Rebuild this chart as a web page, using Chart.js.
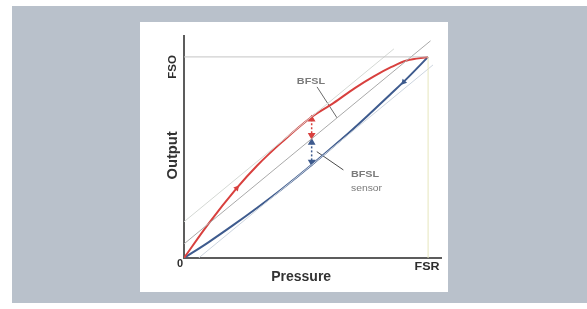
<!DOCTYPE html>
<html>
<head>
<meta charset="utf-8">
<script src="https://cdn.jsdelivr.net/npm/chart.js@4"></script>
<style>
    html, body { margin: 0; padding: 0; background: #fff; }
    #bg    { position: absolute; left: 12px; top: 6px; width: 575px; height: 297px; background: #b9c1cb; }
    #panel { position: absolute; left: 140px; top: 22px; width: 308px; height: 270px; background: #fff; }
    canvas { display: block; }
</style>
</head>
<body>
<div id="bg"></div>
<div id="panel"><canvas id="bfslChart" width="308" height="270"></canvas></div>
<script>
// Values (pressure / output as fraction of FSR / FSO)
// ----------------------------------------------
const xTickLabels = ['0', 'FSR'];
const yTickLabels = ['FSO'];

const riseX  = [0, 0.10, 0.216, 0.30, 0.40, 0.516, 0.612, 0.70, 0.776, 0.85, 0.913, 1];
const riseY  = [0, 0.17, 0.347, 0.46, 0.575, 0.695, 0.77, 0.845, 0.902, 0.95, 0.982, 1];

const fallX  = [0, 0.10, 0.20, 0.30, 0.40, 0.52, 0.65, 0.75, 0.85, 0.913, 1];
const fallY  = [0, 0.078, 0.162, 0.25, 0.342, 0.46, 0.595, 0.705, 0.819, 0.892, 1];

const bfslX  = [0, 1.01];
const bfslY  = [0.07, 1.08];
const upperX = [0, 0.86];
const upperY = [0.18, 1.04];
const lowerX = [0.06, 1.02];
const lowerY = [0, 0.96];

const errX   = 0.523;
const errRedY  = [0.69, 0.61];
const errBlueY = [0.575, 0.478];

const ptrBfslX = [0.545, 0.627];
const ptrBfslY = [0.851, 0.697];
const ptrErrX  = [0.544, 0.653];
const ptrErrY  = [0.529, 0.438];

const zip = (xs, ys) => xs.map((v, i) => ({ x: v, y: ys[i] }));

const red   = '#d8403e';
const blue  = '#3e5b8e';

// text helper, sx stretches horizontally like the blurry original
function txt(ctx, s, px, py, font, color, rot, sx, align) {
    ctx.save();
    ctx.translate(px, py);
    if (rot) ctx.rotate(rot);
    ctx.scale(sx || 1, 1);
    ctx.font = font;
    ctx.fillStyle = color;
    ctx.textAlign = align || 'center';
    ctx.textBaseline = 'middle';
    ctx.fillText(s, 0, 0);
    ctx.restore();
}

const frame = {
    id: 'frame',
    beforeDatasetsDraw(chart) {
        const { ctx, scales: { x, y } } = chart;
        const x0 = x.getPixelForValue(0), y0 = y.getPixelForValue(0);
        ctx.save();
        ctx.strokeStyle = '#5c5c5c';
        ctx.lineWidth = 2;
        ctx.beginPath();
        ctx.moveTo(x0, y.getPixelForValue(y.max));
        ctx.lineTo(x0, y0);
        ctx.lineTo(x.getPixelForValue(x.max), y0);
        ctx.stroke();
        ctx.restore();
    },
    afterDatasetsDraw(chart) {
        const { ctx, scales: { x, y } } = chart;
        const x0 = x.getPixelForValue(0), y0 = y.getPixelForValue(0);
        const bold = f => `bold ${f}px "Liberation Sans", Arial, sans-serif`;
        const dark = '#2e2e2e';

        txt(ctx, xTickLabels[0], x0 - 4, y0 + 6, bold(11), dark, 0, 1);
        txt(ctx, xTickLabels[1], x.getPixelForValue(1) - 1, y0 + 9, bold(10), dark, 0, 1.25);
        txt(ctx, yTickLabels[0], x0 - 11, y.getPixelForValue(0.95), bold(10), dark, -Math.PI / 2, 1.15);

        txt(ctx, 'Pressure', x.getPixelForValue(0.48), y0 + 19, bold(14), '#333', 0, 1);
        txt(ctx, 'Output', x0 - 11, y.getPixelForValue(0.51), bold(14), '#333', -Math.PI / 2, 1.05);

        const grey = '#7a7a7a';
        txt(ctx, 'BFSL', x.getPixelForValue(0.52), y.getPixelForValue(0.876), bold(9), grey, 0, 1.2);
        txt(ctx, 'BFSL', x.getPixelForValue(0.684), y.getPixelForValue(0.413), bold(9), grey, 0, 1.2, 'left');
        txt(ctx, 'sensor', x.getPixelForValue(0.684), y.getPixelForValue(0.348), '9px "Liberation Sans", Arial, sans-serif', grey, 0, 1.15, 'left');
    }
};

const line = (data, color, width, extra) => Object.assign({
    data: data,
    borderColor: color,
    borderWidth: width,
    pointRadius: 0,
    fill: false
}, extra || {});

new Chart(document.getElementById('bfslChart'), {
    type: 'line',
    data: {
        datasets: [
            line([{ x: 0, y: 1 }, { x: 1, y: 1 }], '#c4c4c4', 1),
            line([{ x: 1, y: 0 }, { x: 1, y: 1 }], '#e6e6bc', 1),
            line(zip(upperX, upperY), '#d4d8d4', 1),
            line(zip(lowerX, lowerY), '#ccd4de', 1),
            line(zip(bfslX, bfslY), '#a9a9a9', 1),
            line(zip(riseX, riseY), red, 2, { tension: 0.35 }),
            line(zip(fallX, fallY), blue, 2, { tension: 0.35 }),
            line(zip(ptrBfslX, ptrBfslY), '#6a6a6a', 1),
            line(zip(ptrErrX, ptrErrY), '#4a4a4a', 1),
            line(zip([errX, errX], errRedY), red, 1.5, {
                borderDash: [2, 2],
                pointRadius: 3, pointStyle: 'triangle',
                pointBackgroundColor: red, pointBorderColor: red,
                pointRotation: [0, 180]
            }),
            line(zip([errX, errX], errBlueY), blue, 1.5, {
                borderDash: [2, 2],
                pointRadius: 3, pointStyle: 'triangle',
                pointBackgroundColor: blue, pointBorderColor: blue,
                pointRotation: [0, 180]
            }),
            // direction arrows on the curves
            line([{ x: 0.216, y: 0.347 }], red, 0, {
                showLine: false, pointRadius: 3.5, pointStyle: 'triangle',
                pointBackgroundColor: red, pointBorderColor: red, pointRotation: 42
            }),
            line([{ x: 0.90, y: 0.875 }], blue, 0, {
                showLine: false, pointRadius: 3.5, pointStyle: 'triangle',
                pointBackgroundColor: blue, pointBorderColor: blue, pointRotation: 222
            })
        ]
    },
    options: {
        responsive: false,
        animation: false,
        events: [],
        layout: { padding: { left: 44, right: 6, top: 13, bottom: 34 } },
        plugins: { legend: { display: false }, tooltip: { enabled: false } },
        scales: {
            x: { type: 'linear', display: false, min: 0, max: 1.057 },
            y: { type: 'linear', display: false, min: 0, max: 1.109 }
        }
    },
    plugins: [frame]
});
</script>
</body>
</html>
